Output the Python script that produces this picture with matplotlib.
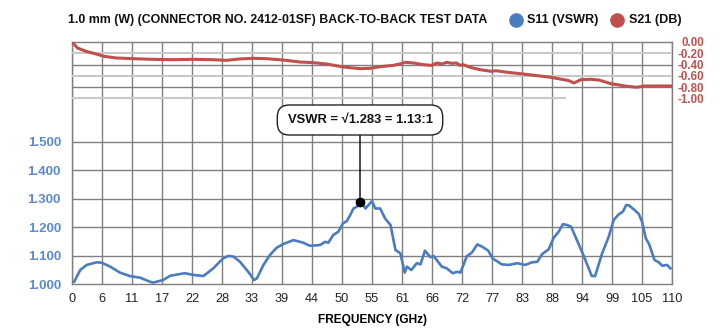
import matplotlib
matplotlib.use('Agg')
import matplotlib.pyplot as plt
from matplotlib.patches import FancyBboxPatch
from matplotlib.lines import Line2D

plt.rcParams['font.family'] = ['Liberation Sans', 'DejaVu Sans']

# ---------------- data ----------------
title = "1.0 mm (W) (CONNECTOR NO. 2412-01SF) BACK-TO-BACK TEST DATA"
series_names = ["S11 (VSWR)", "S21 (DB)"]
x_ticks = [5.5 * i for i in range(21)]
x_tick_labels = ["0", "6", "11", "17", "22", "28", "33", "39", "44", "50", "55",
                 "61", "66", "72", "77", "83", "88", "94", "99", "105", "110"]
vswr_ticks = [1.0, 1.1, 1.2, 1.3, 1.4, 1.5]
vswr_tick_labels = ["1.000", "1.100", "1.200", "1.300", "1.400", "1.500"]
db_ticks = [0.0, -0.2, -0.4, -0.6, -0.8, -1.0]
db_tick_labels = ["0.00", "-0.20", "-0.40", "-0.60", "-0.80", "-1.00"]

s11_freq = [0.4, 1.5, 2.7, 4.5, 5.4, 7.0, 8.8, 10.6, 12.5, 14.3, 14.9, 16.7, 18.0,
            20.7, 22.2, 24.1, 25.9, 27.7, 28.7, 29.6, 30.8, 32.3, 33.4, 33.9, 35.1,
            36.3, 37.5, 38.7, 40.6, 42.4, 43.6, 45.5, 46.4, 47.0, 47.9, 48.8, 49.7,
            50.4, 51.0, 51.6, 52.2, 52.8, 53.2, 53.8, 55.0, 55.6, 56.5, 57.4, 58.4,
            59.3, 60.2, 61.0, 61.4, 62.2, 63.2, 63.9, 64.7, 65.7, 66.3, 67.8, 68.7,
            69.8, 70.6, 71.2, 72.4, 73.3, 74.3, 75.2, 76.3, 77.1, 78.8, 80.1, 81.6,
            83.1, 84.3, 85.3, 86.2, 87.4, 88.3, 89.2, 90.0, 90.8, 91.5, 93.5, 95.3,
            95.9, 97.2, 98.4, 99.3, 100.2, 101.0, 101.6, 102.1, 103.0, 103.9, 104.5,
            105.2, 105.8, 106.8, 107.6, 108.2, 109.1, 109.7]
s11_vswr = [1.009, 1.050, 1.068, 1.077, 1.076, 1.062, 1.041, 1.029, 1.023, 1.009,
            1.006, 1.015, 1.030, 1.039, 1.033, 1.029, 1.056, 1.091, 1.100, 1.097,
            1.079, 1.044, 1.015, 1.021, 1.068, 1.103, 1.128, 1.141, 1.155, 1.146,
            1.135, 1.138, 1.149, 1.146, 1.173, 1.184, 1.214, 1.222, 1.243, 1.266,
            1.272, 1.284, 1.284, 1.266, 1.292, 1.266, 1.266, 1.231, 1.208, 1.120,
            1.109, 1.041, 1.062, 1.050, 1.074, 1.070, 1.118, 1.095, 1.099, 1.062,
            1.056, 1.039, 1.044, 1.041, 1.099, 1.111, 1.140, 1.132, 1.118, 1.091,
            1.070, 1.068, 1.074, 1.068, 1.077, 1.079, 1.106, 1.123, 1.163, 1.184,
            1.211, 1.208, 1.202, 1.114, 1.029, 1.029, 1.109, 1.167, 1.225, 1.245,
            1.255, 1.278, 1.277, 1.263, 1.247, 1.220, 1.161, 1.141, 1.085, 1.077,
            1.065, 1.068, 1.056]

s21_freq = [0.2, 1.0, 2.6, 4.4, 5.9, 8.1, 11.1, 14.8, 18.5, 22.1, 25.8, 28.2, 30.7,
            33.1, 35.6, 38.7, 41.8, 44.2, 46.7, 49.7, 52.8, 54.6, 56.5, 58.9, 60.1,
            61.1, 62.6, 64.4, 65.9, 66.9, 67.8, 68.7, 69.6, 70.5, 71.1, 71.7, 73.0,
            74.8, 76.8, 77.7, 79.8, 82.3, 84.7, 87.8, 90.2, 91.1, 92.0, 93.3, 95.1,
            96.6, 98.8, 101.8, 103.6, 104.9, 107.3, 109.8]
s21_db = [-0.018, -0.107, -0.166, -0.213, -0.255, -0.284, -0.296, -0.308, -0.314,
          -0.308, -0.314, -0.326, -0.302, -0.290, -0.296, -0.320, -0.356, -0.367,
          -0.391, -0.444, -0.474, -0.468, -0.439, -0.415, -0.391, -0.361, -0.373,
          -0.403, -0.415, -0.373, -0.391, -0.361, -0.379, -0.373, -0.415, -0.403,
          -0.450, -0.492, -0.521, -0.510, -0.539, -0.564, -0.592, -0.628, -0.670,
          -0.688, -0.729, -0.670, -0.663, -0.676, -0.741, -0.788, -0.805, -0.782,
          -0.782, -0.782]

note_text = "VSWR = \u221a1.283 = 1.13:1"
note_freq = 52.8
note_vswr = 1.29

# ---------------- style ----------------
BLUE = '#4a7cc0'
RED = '#c0504d'
GRID = '#7f7f7f'
LIGHT = '#c8c8c8'
TICKBLUE = '#5b8ad0'

W, H = 724, 328
L, R, T, B = 72, 672, 42, 284.3
fig = plt.figure(figsize=(W / 100, H / 100), dpi=100)
ax = fig.add_axes([L / W, (H - B) / H, (R - L) / W, (B - T) / H])

px_per_vswr = 285.0
ax.set_xlim(0, 110)
ax.set_ylim(1.0, 1.0 + (B - T) / px_per_vswr)
ax.set_xticks(x_ticks)
ax.set_xticklabels(x_tick_labels, fontsize=9.2, color='#222222')
ax.set_yticks(vswr_ticks)
ax.set_yticklabels(vswr_tick_labels, fontsize=9.5, color=TICKBLUE, fontweight='bold')
ax.tick_params(axis='x', length=0, pad=6)
ax.tick_params(axis='y', length=0, pad=8)
ax.set_axisbelow(True)
ax.grid(True, axis='x', color=GRID, lw=1.0)
for v in vswr_ticks[1:]:
    ax.axhline(v, color=GRID, lw=1.0, zorder=0.5)
for s in ax.spines.values():
    s.set_color(GRID)
    s.set_linewidth(1.0)

ax.plot(s11_freq, s11_vswr, color=BLUE, lw=1.9, solid_joinstyle='round', zorder=3)

ax2 = ax.twinx()
px_per_db = 56.25
ax2.set_ylim(-(B - T) / px_per_db, 0)
ax2.set_yticks(db_ticks)
ax2.set_yticklabels(db_tick_labels, fontsize=8.3, color=RED, fontweight='bold', ha='right')
ax2.tick_params(axis='y', length=0, pad=23)
for s in ax2.spines.values():
    s.set_visible(False)
for v in (-0.4, -0.8):
    ax2.axhline(v, color=GRID, lw=1.0, zorder=1)
for v in (-0.2, -0.6):
    ax2.axhline(v, color=LIGHT, lw=1.5, zorder=1)
ax2.axhline(-1.0, color=LIGHT, lw=1.5, zorder=1, xmax=(565 - L) / (R - L))
ax2.plot(s21_freq, s21_db, color=RED, lw=2.2, solid_joinstyle='round', zorder=3)

# annotation box
bx0, bx1 = (277.3 - L) / (R - L), (442.7 - L) / (R - L)
by0, by1 = (B - 135) / (B - T), (B - 105) / (B - T)
box = FancyBboxPatch((bx0, by0), bx1 - bx0, by1 - by0,
                     boxstyle='round,pad=0,rounding_size=0.02',
                     transform=ax.transAxes, facecolor='white', edgecolor='#222222',
                     lw=1.0, zorder=6, mutation_aspect=(R - L) / (B - T))
ax2.add_patch(box)
ax2.text((bx0 + bx1) / 2, (by0 + by1) / 2, note_text, transform=ax.transAxes,
         ha='center', va='center', fontsize=9.4, fontweight='bold', color='#111111',
         zorder=7)
ax.annotate('', xy=(note_freq, note_vswr), xycoords='data',
            xytext=(note_freq, by0), textcoords=('data', 'axes fraction'),
            arrowprops=dict(arrowstyle='-', color='black', lw=1.0,
                            shrinkA=0, shrinkB=0), zorder=5)
ax.plot([note_freq], [note_vswr], 'o', color='black', ms=6, zorder=6)

ax.set_xlabel('FREQUENCY (GHz)', fontsize=8.6, fontweight='bold', labelpad=7)

ty = 1 - 20 / H
fig.text(68 / W, ty, title, ha='left', va='center', fontsize=8.9,
         fontweight='bold', color='#111111')
leg_colors = [BLUE, RED]
leg_dot_x = [516, 617]
leg_txt_x = [527, 629]
for c, dx, tx, name in zip(leg_colors, leg_dot_x, leg_txt_x, series_names):
    fig.add_artist(Line2D([dx / W], [ty], ls='none', marker='o', ms=9.5, color=c,
                          transform=fig.transFigure))
    fig.text(tx / W, ty, name, ha='left', va='center', fontsize=9.1,
             fontweight='bold', color='#111111')

fig.savefig('out.png', dpi=100)
